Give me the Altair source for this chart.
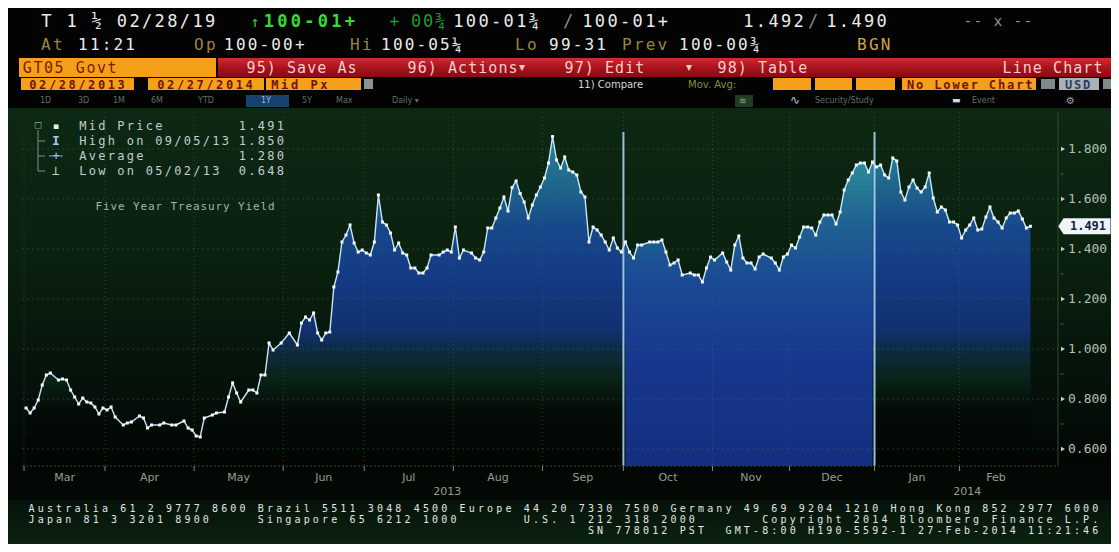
import altair as alt
import pandas as pd
from pandas.tseries.holiday import USFederalHolidayCalendar
from pandas.tseries.offsets import CustomBusinessDay

# ---------------- data ----------------
# trading-session number (0 = 2013-02-28) and 5y yield (%)
session = [1, 2, 3, 4, 5, 6, 7, 9, 10, 11, 12, 13, 14, 15, 16, 17, 18, 19, 20, 21, 22, 23, 25, 26, 27,
           29, 30, 31, 32, 34, 35, 37, 38, 40, 41, 42, 43, 44, 45, 47, 48, 50, 51, 52, 53, 54, 56, 57,
           58, 59, 60, 61, 62, 64, 66, 68, 69, 70, 71, 72, 73, 74, 75, 76, 77, 78, 79, 80, 81, 82, 83,
           84, 85, 86, 87, 88, 89, 90, 91, 92, 93, 94, 95, 96, 97, 98, 99, 100, 101, 103, 104, 105, 106,
           107, 108, 109, 111, 112, 113, 114, 115, 116, 117, 118, 119, 120, 121, 122, 123, 124, 125, 126,
           127, 128, 129, 130, 131, 132, 133, 134, 135, 136, 137, 138, 139, 140, 141, 142, 143, 144, 145,
           146, 147, 148, 149, 150, 151, 152, 153, 155, 156, 157, 158, 159, 160, 161, 162, 163, 165, 166,
           167, 168, 169, 170, 171, 173, 174, 175, 176, 177, 178, 179, 180, 181, 182, 183, 185, 186, 187,
           188, 189, 190, 191, 192, 193, 194, 195, 196, 197, 198, 199, 200, 201, 202, 203, 204, 205, 206,
           207, 208, 209, 210, 211, 212, 213, 214, 215, 216, 217, 218, 219, 220, 221, 222, 223, 224, 225,
           226, 227, 228, 229, 230, 231, 232, 233, 234, 235, 236, 237, 238, 239, 240, 241, 242, 243, 244,
           245, 246, 247, 248, 249]
yield_pct = [0.764, 0.744, 0.764, 0.796, 0.856, 0.896, 0.904, 0.876, 0.880, 0.876, 0.836, 0.808, 0.780,
             0.804, 0.788, 0.784, 0.768, 0.740, 0.764, 0.756, 0.768, 0.728, 0.696, 0.704, 0.708, 0.732,
             0.724, 0.684, 0.696, 0.696, 0.704, 0.696, 0.696, 0.712, 0.684, 0.676, 0.652, 0.648, 0.724,
             0.736, 0.744, 0.748, 0.808, 0.864, 0.824, 0.788, 0.836, 0.836, 0.824, 0.896, 0.896, 1.024,
             0.996, 1.024, 1.064, 1.016, 1.104, 1.128, 1.116, 1.144, 1.064, 1.036, 1.064, 1.068, 1.248,
             1.308, 1.428, 1.456, 1.496, 1.424, 1.388, 1.396, 1.384, 1.376, 1.428, 1.616, 1.508, 1.496,
             1.464, 1.396, 1.424, 1.384, 1.376, 1.324, 1.324, 1.304, 1.304, 1.324, 1.376, 1.376, 1.388,
             1.396, 1.388, 1.488, 1.364, 1.396, 1.384, 1.364, 1.356, 1.388, 1.484, 1.484, 1.524, 1.564,
             1.608, 1.552, 1.646, 1.672, 1.622, 1.588, 1.524, 1.576, 1.616, 1.648, 1.684, 1.744, 1.850,
             1.756, 1.724, 1.768, 1.716, 1.708, 1.696, 1.628, 1.608, 1.428, 1.488, 1.476, 1.456, 1.428,
             1.396, 1.444, 1.404, 1.388, 1.428, 1.388, 1.364, 1.416, 1.416, 1.428, 1.428, 1.428, 1.436,
             1.388, 1.336, 1.344, 1.356, 1.296, 1.304, 1.296, 1.296, 1.268, 1.324, 1.368, 1.356, 1.384,
             1.348, 1.316, 1.416, 1.452, 1.364, 1.344, 1.344, 1.320, 1.368, 1.380, 1.364, 1.344, 1.316,
             1.368, 1.380, 1.416, 1.404, 1.448, 1.488, 1.488, 1.484, 1.456, 1.508, 1.536, 1.536, 1.536,
             1.500, 1.548, 1.636, 1.676, 1.704, 1.736, 1.744, 1.744, 1.708, 1.748, 1.728, 1.736, 1.696,
             1.684, 1.764, 1.752, 1.628, 1.596, 1.648, 1.676, 1.644, 1.628, 1.648, 1.704, 1.604, 1.548,
             1.568, 1.556, 1.508, 1.508, 1.496, 1.444, 1.476, 1.496, 1.524, 1.476, 1.480, 1.528, 1.568,
             1.524, 1.508, 1.484, 1.524, 1.544, 1.544, 1.552, 1.520, 1.484, 1.491]

legend_labels = ["Mid Price", "High on 09/05/13", "Average", "Low on 05/02/13"]
legend_values = ["1.491", "1.850", "1.280", "0.648"]
y_ticks = [0.6, 0.8, 1.0, 1.2, 1.4, 1.6, 1.8]
y_minor = [0.7, 0.9, 1.1, 1.3, 1.5, 1.7]
last_value = 1.491
highlight_months = [(2013, 10), (2014, 1)]

# ---------------- layout ----------------
OX, OY = 22, 112            # page position of plot origin
W, H = 1036, 354
Y_MIN, Y_MAX = 0.532, 1.948
X_MAX = 255.8
MONO = "DejaVu Sans Mono"
SANS = "DejaVu Sans"

# trading calendar (bond market: federal holidays + Good Friday)
hol = list(USFederalHolidayCalendar().holidays("2013-01-01", "2014-12-31")) + [pd.Timestamp("2013-03-29")]
cal = pd.date_range("2013-02-28", "2014-02-27", freq=CustomBusinessDay(holidays=hol))

df = pd.DataFrame({"i": session, "v": yield_pct})
df["date"] = [cal[k].strftime("%Y-%m-%d") if k < len(cal) else "" for k in session]

cdf = pd.DataFrame({"d": cal, "i": range(len(cal))})
grp = cdf.groupby([cdf.d.dt.year, cdf.d.dt.month])["i"].agg(["min", "max"])
month_rows, bounds = [], []
for (yr, mo), r in grp.iterrows():
    if r["max"] - r["min"] < 3:
        continue
    month_rows.append({"i": (r["min"] + r["max"]) / 2, "t": pd.Timestamp(yr, mo, 1).strftime("%b")})
    bounds.append({"i": r["min"] - 0.5, "ym": (yr, mo)})
months_df = pd.DataFrame(month_rows)
bounds_df = pd.DataFrame({"i": [b["i"] for b in bounds]})
hl_df = pd.DataFrame({"i": [b["i"] for b in bounds if b["ym"] in highlight_months]})
end2013 = grp.loc[(2013, 12), "max"]
years_df = pd.DataFrame({"i": [end2013 / 2, (end2013 + 1 + X_MAX) / 2], "t": ["2013", "2014"]})
q_lo, q_hi = hl_df["i"].min(), hl_df["i"].max()

xs = alt.Scale(domain=[0, X_MAX], nice=False, zero=False)
ys = alt.Scale(domain=[Y_MIN, Y_MAX], nice=False, zero=False)
XQ = alt.X("i:Q", scale=xs, axis=None)
YQ = alt.Y("v:Q", scale=ys, axis=None)
PX = alt.X("px:Q", scale=None, axis=None)
PY = alt.Y("py:Q", scale=None, axis=None)


def grad(stops):
    return alt.Gradient(gradient="linear", x1=0, x2=0, y1=0, y2=1,
                        stops=[alt.GradientStop(color=c, offset=o) for o, c in stops])


def prect(x1, x2, y1, y2, g):
    return alt.Chart(pd.DataFrame({"a": [0]})).mark_rect(color=g).encode(
        x=alt.value(x1 - OX), x2=alt.value(x2 - OX), y=alt.value(y1 - OY), y2=alt.value(y2 - OY))


def mono(text, x0, y, pitch, color, size):
    out = []
    for k, ch in enumerate(text):
        if ch.strip():
            out.append({"t": ch, "px": x0 + (k + 0.5) * pitch - OX, "py": y - OY, "c": color, "s": size})
    return out


def text_layer(rows, font, align="center", weight="normal"):
    return alt.Chart(pd.DataFrame(rows)).mark_text(font=font, align=align, baseline="middle",
                                                    fontWeight=weight).encode(
        x=PX, y=PY, text="t:N", color=alt.Color("c:N", scale=None), size=alt.Size("s:Q", scale=None))


# ---------------- backgrounds & boxes ----------------
layers = []
layers.append(prect(8, 1111, 108, 466, grad([(0, "#0d2813"), (0.45, "#0a200f"), (0.8, "#041009"), (1, "#020603")])))
layers.append(prect(8, 1111, 466, 500, "#030804"))
layers.append(prect(8, 1111, 500, 544, grad([(0, "#05120a"), (1, "#0b2310")])))
layers.append(prect(218, 1111, 58, 77, grad([(0, "#d42a31"), (0.5, "#a8131c"), (1, "#8a0b13")])))

ORANGE = "#f6a019"
boxes = [
    (19, 216, 58, 77, ORANGE),
    (21, 134, 78, 90, ORANGE), (148, 264, 78, 90, ORANGE), (266, 361, 78, 90, ORANGE),
    (364, 373, 79, 89, "#8a9494"),
    (773, 811, 78, 90, ORANGE), (815, 852, 78, 90, ORANGE), (856, 895, 78, 90, ORANGE),
    (902, 1036, 78, 90, ORANGE), (1041, 1055, 79, 89, "#7f8a8a"), (1059, 1099, 78, 90, "#a9b2b6"),
    (1103, 1111, 79, 89, "#7f8a8a"),
    (246, 289, 95, 107, "#17426f"), (735, 753, 95, 107, "#243c24"),
]
bdf = pd.DataFrame([{"x1": a - OX, "x2": b - OX, "y1": c - OY, "y2": d - OY, "c": e} for a, b, c, d, e in boxes])
layers.append(alt.Chart(bdf).mark_rect().encode(
    x=alt.X("x1:Q", scale=None, axis=None), x2="x2:Q",
    y=alt.Y("y1:Q", scale=None, axis=None), y2="y2:Q", color=alt.Color("c:N", scale=None)))

# ---------------- data marks ----------------
base = alt.Chart(df)
layers.append(base.mark_area(interpolate="linear", color=grad([
    (0, "#2b8597"), (0.13, "#1f6a8c"), (0.28, "#17488a"), (0.43, "#143a84"), (0.59, "#11306e"),
    (0.66, "#0d2a3a"), (0.74, "#0a2216"), (0.83, "#040c06"), (1, "#020503")])).encode(
    x=XQ, y=YQ, y2=alt.datum(Y_MIN)))
layers.append(base.transform_filter(f"datum.i >= {q_lo} && datum.i <= {q_hi}").mark_area(
    interpolate="linear", color=grad([(0, "#2c8a98"), (0.19, "#1f6492"), (0.39, "#1a4a94"),
                                      (0.65, "#17388e"), (1, "#142e80")])).encode(
    x=XQ, y=YQ, y2=alt.datum(Y_MIN)))

# gridlines
layers.append(alt.Chart(bounds_df).mark_rule(color="#3f7048", strokeDash=[1, 3], opacity=0.55).encode(
    x=XQ, y=alt.value(0), y2=alt.value(H)))
tdf = pd.DataFrame({"v": y_ticks, "t": [f"{v:.3f}" for v in y_ticks]})
layers.append(alt.Chart(tdf).mark_rule(color="#3f7048", strokeDash=[2, 3], opacity=0.45).encode(
    y=YQ, x=alt.value(0), x2=alt.value(W)))

# quarter highlight lines
layers.append(alt.Chart(hl_df).mark_rule(color="#a9d2ee", strokeWidth=2, opacity=0.9).encode(
    x=XQ, y=alt.value(132 - OY), y2=alt.value(H)))

layers.append(base.mark_line(color="#c9e7f7", strokeWidth=1.4).encode(x=XQ, y=YQ))
layers.append(base.mark_square(color="#f4fbff", size=9, opacity=1).encode(x=XQ, y=YQ))

# ---------------- axes ----------------
layers.append(alt.Chart(pd.DataFrame({"a": [0]})).mark_rule(color="#2c4a32").encode(
    x=alt.value(1058 - OX), y=alt.value(0), y2=alt.value(H)))
layers.append(alt.Chart(pd.DataFrame({"a": [0]})).mark_rule(color="#2c4a32", strokeDash=[2, 2]).encode(
    x=alt.value(0), x2=alt.value(W), y=alt.value(H)))
layers.append(alt.Chart(tdf).mark_point(shape="triangle-right", filled=True, size=22, color="#c8d0c8",
                                        opacity=1).encode(x=alt.value(1063 - OX), y=YQ))
layers.append(alt.Chart(tdf).mark_text(font=MONO, fontSize=13, align="left", baseline="middle",
                                       color="#b4c0b4").encode(x=alt.value(1068 - OX), y=YQ, text="t:N"))
layers.append(alt.Chart(pd.DataFrame({"v": y_minor})).mark_tick(size=3, thickness=1, color="#6f806f").encode(
    x=alt.value(1062 - OX), y=YQ))
ldf = pd.DataFrame({"v": [last_value], "t": [f"{last_value:.3f}"]})
layers.append(alt.Chart(ldf).mark_point(shape="M-1.22,0L-1,-0.34L1,-0.34L1,0.34L-1,0.34Z", filled=True,
                                        size=2209, color="#eef4fa", opacity=1).encode(
    x=alt.value(1087 - OX), y=YQ))
layers.append(alt.Chart(ldf).mark_text(font=MONO, fontSize=12, fontWeight="bold", align="center",
                                       baseline="middle", color="#17223e").encode(
    x=alt.value(1088 - OX), y=YQ, text="t:N"))

layers.append(alt.Chart(bounds_df).mark_rule(color="#7d8d7d").encode(
    x=XQ, y=alt.value(466 - OY), y2=alt.value(471 - OY)))
layers.append(alt.Chart(months_df).mark_text(font=SANS, fontSize=11, color="#8fa08f", baseline="middle").encode(
    x=XQ, y=alt.value(478 - OY), text="t:N"))
layers.append(alt.Chart(years_df).mark_text(font=SANS, fontSize=11, color="#8fa08f", baseline="middle").encode(
    x=XQ, y=alt.value(492 - OY), text="t:N"))

# ---------------- legend ----------------
rdf = pd.DataFrame([{"x1": a - OX, "x2": b - OX, "y1": c - OY, "y2": d - OY, "c": e} for a, b, c, d, e in [
    (38, 38, 130, 171, "#7f9090"), (38, 45, 141, 141, "#7f9090"), (38, 45, 156, 156, "#7f9090"),
    (38, 45, 171, 171, "#7f9090"), (49, 63, 156, 156, "#79a5e0")]])
layers.append(alt.Chart(rdf).mark_rule().encode(
    x=alt.X("x1:Q", scale=None, axis=None), x2="x2:Q",
    y=alt.Y("y1:Q", scale=None, axis=None), y2="y2:Q", color=alt.Color("c:N", scale=None)))

mono_rows = []
mono_bold = []
sans_rows = []
mono_rows += mono("□", 34, 125, 8, "#8c9c9c", 11)
mono_rows += mono("▪", 52, 126, 8, "#e0ecf6", 12)
mono_bold += mono("I", 52, 141, 8, "#a8c8ee", 13)
mono_rows += mono("+", 52, 156, 8, "#9cc0f0", 12)
mono_rows += mono("⊥", 52, 171, 8, "#a8dcc6", 13)
for k, (lab, val) in enumerate(zip(legend_labels, legend_values)):
    yy = 126 + 15 * k
    mono_rows += mono(lab, 78, yy, 9.5, "#c1cdd1", 12)
    mono_rows += mono(val, 285 - 9.5 * len(val), yy, 9.5, "#c1cdd1", 12)
mono_rows += mono("Five Year Treasury Yield", 95, 207, 7.5, "#a2b5a7", 11)

# ---------------- header ----------------
WHITE, GOLD, GRAY = "#ececec", "#98873a", "#8a8a8a"
for t, x0, p, c, s in [("T 1 ½ 02/28/19", 40, 12.6, WHITE, 17), ("+", 388, 12.6, "#1f9a2a", 17),
                       ("00¾", 410, 12.0, "#1f9a2a", 17), ("100-01¾", 452, 12.6, WHITE, 17),
                       ("/", 563, 10, GRAY, 17), ("100-01+", 581, 12.6, WHITE, 17),
                       ("1.492", 742, 12.6, WHITE, 17), ("/", 808, 10, GRAY, 17),
                       ("1.490", 825, 12.6, WHITE, 17), ("-- x --", 963, 10, "#9a9a9a", 14)]:
    mono_rows += mono(t, x0, 22, p, c, s)
mono_rows += mono("↑", 250, 22, 10, "#2fd12f", 15)
mono_bold += mono("100-01+", 262, 22, 13.5, "#33dd33", 17)
for t, x0, c in [("At", 40, GOLD), ("11:21", 77, WHITE), ("Op", 193, GOLD), ("100-00+", 223, WHITE),
                 ("Hi", 349, GOLD), ("100-05¼", 380, WHITE), ("Lo", 514, GOLD), ("99-31", 548, WHITE),
                 ("Prev", 621, GOLD), ("100-00¾", 678, WHITE), ("BGN", 856, "#d0a348")]:
    mono_rows += mono(t, x0, 45, 11.8, c, 16)
mono_rows += mono("GT05 Govt", 22, 67.5, 10.6, "#7d1a00", 15)
for t, x0 in [("95) Save As", 246), ("96) Actions", 407), ("97) Edit", 564), ("98) Table", 717),
              ("Line Chart", 1002)]:
    mono_rows += mono(t, x0, 67.5, 10.1, "#f6cccc", 15)
for t, x0, p, c in [("02/28/2013", 28, 9.8, "#701400"), ("02/27/2014", 156, 9.8, "#701400"),
                    ("Mid Px", 270, 9.8, "#701400"), ("No Lower Chart", 906, 9.1, "#701400"),
                    ("USD", 1064, 9.0, "#2b3a66")]:
    mono_bold += mono(t, x0, 84.5, p, c, 12)
sans_rows += [
    {"t": "▾", "px": 519 - OX, "py": 67 - OY, "c": "#f6cccc", "s": 12},
    {"t": "▾", "px": 686 - OX, "py": 67 - OY, "c": "#f6cccc", "s": 12},
    {"t": "11) Compare", "px": 578 - OX, "py": 84.5 - OY, "c": "#d6d6d6", "s": 10},
    {"t": "Mov. Avg:", "px": 688 - OX, "py": 84.5 - OY, "c": "#8e8b3e", "s": 10},
]
for t, x0 in [("1D", 40), ("3D", 78), ("1M", 113), ("6M", 151), ("YTD", 198), ("5Y", 302), ("Max", 336),
              ("Daily ▾", 392), ("Security/Study", 815), ("Event", 972)]:
    sans_rows.append({"t": t, "px": x0 - OX, "py": 101 - OY, "c": "#607060", "s": 8})
sans_rows += [
    {"t": "1Y", "px": 261 - OX, "py": 101 - OY, "c": "#9dbad8", "s": 8},
    {"t": "≋", "px": 739 - OX, "py": 101 - OY, "c": "#8aa88a", "s": 9},
    {"t": "∿", "px": 790 - OX, "py": 100 - OY, "c": "#a8c0dc", "s": 12},
    {"t": "▬", "px": 952 - OX, "py": 100 - OY, "c": "#d0d8f0", "s": 9},
    {"t": "⚙", "px": 1066 - OX, "py": 101 - OY, "c": "#9aa89a", "s": 10},
]

# ---------------- footer ----------------
footer = [
    "Australia 61 2 9777 8600 Brazil 5511 3048 4500 Europe 44 20 7330 7500 Germany 49 69 9204 1210 Hong Kong 852 2977 6000",
    "Japan 81 3 3201 8900".ljust(25) + "Singapore 65 6212 1000".ljust(29) + "U.S. 1 212 318 2000".ljust(26)
    + "Copyright 2014 Bloomberg Finance L.P.",
    " " * 61 + "SN 778012 PST  GMT-8:00 H190-5592-1 27-Feb-2014 11:21:46",
]
for k, line in enumerate(footer):
    mono_rows += mono(line, 27, 509 + 11 * k, 9.17, "#e4e6e4", 10)

layers.append(text_layer(mono_rows, MONO))
layers.append(text_layer(mono_bold, MONO, weight="bold"))
layers.append(text_layer(sans_rows, SANS, align="left"))

chart = alt.layer(*layers).properties(
    width=W, height=H,
    autosize=alt.AutoSizeParams(type="none"),
    padding={"left": 14, "top": 104, "right": 53, "bottom": 78},
).configure(background="#020302").configure_view(strokeWidth=0)

chart.save("out.html", embed_options={"renderer": "svg", "actions": False})
